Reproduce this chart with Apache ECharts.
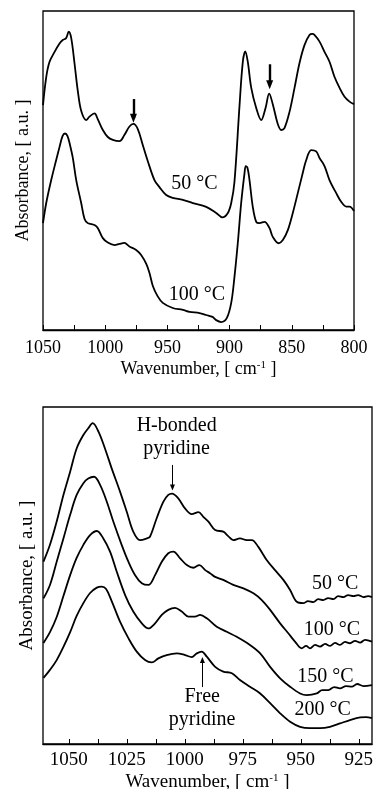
<!DOCTYPE html>
<html>
<head>
<meta charset="utf-8">
<script src="https://cdn.jsdelivr.net/npm/echarts@6/dist/echarts.min.js"></script>
<style>
  html, body { margin: 0; padding: 0; background: #fff; }
  #chart { width: 375px; height: 789px; }
</style>
</head>
<body>
<div id="chart"></div>
<script>
// ---- Upper panel: 1050–800 cm-1 ----
const upperWn50 = [1050.0,1047.4,1044.8,1040.8,1036.7,1034.1,1031.4,1029.3,1027.3,1024.7,1022.0,1019.3,1015.3,1012.6,1008.6,1006.0,1001.9,997.9,993.9,988.5,984.6,980.5,977.3,973.8,969.8,965.8,960.4,956.4,951.0,945.7,937.6,929.6,918.8,910.8,905.9,901.4,898.7,896.1,892.0,889.4,887.4,885.4,882.6,878.6,874.6,871.1,868.2,865.3,861.3,858.5,855.9,851.9,847.8,843.8,839.8,835.8,833.4,831.8,827.7,823.7,819.7,815.7,811.6,807.6,803.6,800.0];
const upperAbs50 = [0.705,0.793,0.840,0.871,0.898,0.909,0.915,0.935,0.915,0.837,0.749,0.687,0.658,0.669,0.679,0.661,0.627,0.605,0.596,0.592,0.611,0.638,0.646,0.630,0.580,0.530,0.470,0.448,0.423,0.414,0.408,0.398,0.386,0.367,0.353,0.367,0.398,0.464,0.705,0.840,0.873,0.841,0.759,0.696,0.658,0.696,0.741,0.708,0.646,0.627,0.633,0.683,0.759,0.837,0.893,0.925,0.928,0.925,0.904,0.872,0.841,0.794,0.759,0.731,0.716,0.708];

const upperWn100 = [1050.0,1047.4,1043.4,1039.4,1036.7,1034.3,1032.3,1030.3,1028.3,1026.0,1023.3,1019.3,1016.6,1014.0,1011.0,1008.6,1006.0,1001.9,997.9,992.5,988.5,984.6,980.5,975.1,971.1,967.0,964.4,961.7,958.0,953.7,945.7,937.6,932.2,924.2,918.8,913.7,910.8,906.8,902.3,898.7,896.1,893.4,890.7,888.0,887.0,885.6,884.0,881.4,878.6,876.0,872.0,868.0,865.3,860.5,857.2,853.2,849.2,845.2,841.2,838.4,834.4,830.4,827.7,823.7,819.7,814.3,810.3,806.3,803.6,800.0];
const upperAbs100 = [0.335,0.398,0.470,0.533,0.574,0.608,0.616,0.608,0.580,0.539,0.470,0.398,0.348,0.335,0.332,0.329,0.320,0.288,0.274,0.266,0.270,0.273,0.262,0.251,0.235,0.207,0.179,0.138,0.107,0.085,0.069,0.063,0.057,0.053,0.047,0.041,0.031,0.025,0.037,0.085,0.166,0.273,0.398,0.492,0.514,0.508,0.470,0.387,0.339,0.335,0.339,0.320,0.292,0.272,0.282,0.313,0.367,0.429,0.492,0.533,0.564,0.560,0.539,0.514,0.470,0.429,0.402,0.387,0.387,0.373];

const upperTemps = ['50 °C', '100 °C'];
const upperTicks = [1050, 1025, 1000, 975, 950, 925, 900, 875, 850, 825, 800];
const upperLabels = [1050, 1000, 950, 900, 850, 800];

// ---- Lower panel: ~1060–920 cm-1 ----
const lowerWn50 = [1060.9,1058.1,1055.2,1052.3,1049.4,1046.6,1043.7,1041.6,1039.7,1037.2,1034.4,1031.5,1027.9,1025.0,1022.2,1019.3,1016.4,1015.0,1012.1,1009.2,1007.1,1005.5,1002.8,999.9,997.0,994.1,992.0,989.8,986.9,983.4,981.3,979.1,976.2,973.3,971.1,968.3,964.7,961.1,957.5,954.6,951.7,948.9,946.9,944.6,942.5,940.3,938.2,935.9,933.9,931.6,929.6,927.3,925.3,923.0,921.0,919.3];
const lowerAbs50 = [0.541,0.591,0.660,0.739,0.808,0.877,0.917,0.937,0.952,0.927,0.877,0.818,0.749,0.689,0.630,0.605,0.610,0.615,0.670,0.719,0.739,0.743,0.729,0.699,0.682,0.688,0.674,0.660,0.635,0.630,0.617,0.605,0.610,0.605,0.605,0.585,0.546,0.516,0.487,0.457,0.422,0.418,0.424,0.421,0.430,0.427,0.433,0.430,0.439,0.436,0.442,0.439,0.442,0.436,0.439,0.436];

const lowerWn100 = [1060.9,1058.1,1055.2,1052.3,1049.4,1046.6,1043.7,1041.6,1039.1,1036.5,1033.6,1030.8,1027.2,1024.3,1021.4,1018.5,1015.7,1012.8,1009.9,1007.1,1004.9,1002.0,999.1,996.3,993.7,991.2,989.1,986.9,983.4,979.1,974.7,970.4,966.8,963.2,958.9,955.3,952.5,949.6,947.7,946.0,943.8,941.7,939.5,937.4,935.2,933.1,930.9,928.8,926.6,924.4,922.3,919.3];
const lowerAbs100 = [0.432,0.472,0.541,0.610,0.680,0.739,0.774,0.788,0.793,0.769,0.719,0.660,0.591,0.541,0.501,0.477,0.472,0.501,0.541,0.566,0.571,0.551,0.531,0.523,0.531,0.516,0.507,0.496,0.487,0.472,0.462,0.447,0.427,0.398,0.358,0.328,0.304,0.284,0.291,0.284,0.294,0.289,0.297,0.291,0.300,0.294,0.303,0.299,0.306,0.301,0.309,0.304];

const lowerWn150 = [1060.9,1058.1,1055.2,1052.3,1049.4,1046.6,1043.7,1040.8,1037.9,1035.1,1032.2,1029.3,1025.7,1022.2,1018.5,1015.7,1012.8,1009.9,1007.1,1004.2,1001.3,998.4,995.6,993.4,990.5,986.2,981.9,977.6,971.9,967.5,963.2,958.9,954.6,950.3,947.4,943.1,940.8,938.1,935.6,933.1,930.5,928.0,925.7,923.0,919.3];
const lowerAbs150 = [0.300,0.332,0.377,0.439,0.501,0.552,0.591,0.620,0.632,0.610,0.571,0.511,0.442,0.393,0.358,0.343,0.358,0.383,0.398,0.404,0.393,0.378,0.378,0.383,0.373,0.348,0.333,0.318,0.294,0.269,0.229,0.195,0.170,0.150,0.145,0.150,0.160,0.160,0.169,0.165,0.172,0.170,0.178,0.172,0.175];

const lowerWn200 = [1060.9,1058.1,1055.2,1052.3,1049.4,1046.6,1043.7,1040.8,1037.9,1035.8,1033.9,1031.5,1027.9,1024.3,1020.7,1017.1,1014.2,1011.4,1007.8,1003.4,999.9,997.0,994.8,992.7,990.5,986.9,983.4,979.7,976.2,971.9,967.5,963.2,958.9,954.6,950.3,946.0,941.7,937.4,933.1,928.8,924.4,921.9,919.3];
const lowerAbs200 = [0.196,0.220,0.249,0.288,0.332,0.380,0.418,0.448,0.464,0.467,0.460,0.424,0.363,0.314,0.274,0.249,0.242,0.254,0.264,0.269,0.264,0.258,0.269,0.274,0.259,0.229,0.215,0.210,0.190,0.170,0.150,0.121,0.091,0.066,0.051,0.047,0.047,0.051,0.061,0.071,0.079,0.080,0.077];

const lowerTemps = ['50 °C', '100 °C', '150 °C', '200 °C'];
const lowerTicks = [1050, 1037.5, 1025, 1012.5, 1000, 987.5, 975, 962.5, 950, 937.5, 925];
const lowerLabels = [1050, 1025, 1000, 975, 950, 925];

// ---- drawing ----
const FONT = 'Liberation Serif';
const INK = '#000';
const pairs = (xs, ys) => xs.map((x, i) => [x, ys[i]]);

function textLabel(size, extra) {
  return Object.assign({ show: true, position: 'inside', color: INK, fontFamily: FONT, fontSize: size }, extra || {});
}

// temperature tag placed in data space
function tag(coord, text, size) {
  return {
    symbol: 'circle', symbolSize: 0, silent: true, animation: false,
    data: [{ coord: coord, value: 0 }],
    label: textLabel(size, { formatter: text })
  };
}

// thin vertical arrow pointing at a band
function arrow(x, from, to, width, size) {
  return {
    silent: true, animation: false,
    symbol: ['none', 'triangle'], symbolSize: size,
    lineStyle: { color: INK, width: width, type: 'solid' },
    label: { show: false },
    emphasis: { disabled: true },
    data: [[{ coord: [x, from] }, { coord: [x, to] }]]
  };
}

function curve(xi, xs, ys, extra) {
  return Object.assign({
    type: 'line', xAxisIndex: xi, yAxisIndex: xi,
    data: pairs(xs, ys), showSymbol: false, smooth: 0.35,
    lineStyle: { color: INK, width: 1.8 }, silent: true, animation: false
  }, extra || {});
}

function xAxisFor(grid, min, max, ticks, labels, fontSize, nameGap, labelMargin) {
  return {
    gridIndex: grid, type: 'value', min: min, max: max, inverse: true,
    axisLine: { show: true, onZero: false, lineStyle: { color: INK, width: 1.3 } },
    axisTick: { show: true, inside: true, length: 5, customValues: ticks, lineStyle: { color: INK, width: 1 } },
    axisLabel: {
      customValues: labels, color: INK, fontFamily: FONT, fontSize: fontSize, margin: labelMargin,
      formatter: v => String(v)
    },
    splitLine: { show: false },
    name: 'Wavenumber, [ cm{sup|-1} ]',
    nameLocation: 'middle', nameGap: nameGap,
    nameTextStyle: {
      color: INK, fontFamily: FONT, fontSize: fontSize,
      rich: { sup: { fontFamily: FONT, fontSize: Math.round(fontSize * 0.6), color: INK, verticalAlign: 'top' } }
    }
  };
}

function yAxisFor(grid, nameGap, fontSize) {
  return {
    gridIndex: grid, type: 'value', min: 0, max: 1,
    axisLine: { show: false }, axisTick: { show: false },
    axisLabel: { show: false }, splitLine: { show: false },
    name: 'Absorbance, [ a.u. ]', nameLocation: 'middle', nameRotate: 90, nameGap: nameGap,
    nameTextStyle: { color: INK, fontFamily: FONT, fontSize: fontSize }
  };
}

const chart = echarts.init(document.getElementById('chart'), null, { renderer: 'canvas' });

const frame = { show: true, borderColor: INK, borderWidth: 1.3, backgroundColor: 'transparent', containLabel: false, outerBoundsMode: 'none' };

chart.setOption({
  backgroundColor: '#fff',
  animation: false,
  grid: [
    Object.assign({ left: 43, top: 11, width: 311, height: 319 }, frame),
    Object.assign({ left: 43, top: 407, width: 329, height: 337 }, frame)
  ],
  xAxis: [
    xAxisFor(0, 800, 1050, upperTicks, upperLabels, 18, 30, 9),
    xAxisFor(1, 919.3, 1061.1, lowerTicks, lowerLabels, 19, 29, 7)
  ],
  yAxis: [yAxisFor(0, 11, 18), yAxisFor(1, 6, 19)],
  series: [
    curve(0, upperWn50, upperAbs50, {
      markPoint: tag([928.2, 0.460], upperTemps[0], 20),
      markLine: {
        silent: true, animation: false, symbol: ['none', 'triangle'], symbolSize: [7, 9],
        lineStyle: { color: INK, width: 2.4, type: 'solid' }, label: { show: false }, emphasis: { disabled: true },
        data: [
          [{ coord: [977.3, 0.724] }, { coord: [977.3, 0.664] }],
          [{ coord: [867.8, 0.833] }, { coord: [867.8, 0.769] }]
        ]
      }
    }),
    curve(0, upperWn100, upperAbs100, { markPoint: tag([926.2, 0.110], upperTemps[1], 20) }),

    curve(1, lowerWn50, lowerAbs50, {
      markPoint: {
        symbol: 'circle', symbolSize: 0, silent: true, animation: false,
        data: [
          { coord: [935.2, 0.477], value: 0, label: textLabel(20, { formatter: lowerTemps[0] }) },
          { coord: [1003.5, 0.909], value: 0, label: textLabel(20, { formatter: 'H-bonded\npyridine', lineHeight: 23 }) }
        ]
      },
      markLine: arrow(1005.3, 0.828, 0.761, 1, [5, 6])
    }),
    curve(1, lowerWn100, lowerAbs100, { markPoint: tag([936.6, 0.338], lowerTemps[1], 20) }),
    curve(1, lowerWn150, lowerAbs150, { markPoint: tag([939.4, 0.200], lowerTemps[2], 20) }),
    curve(1, lowerWn200, lowerAbs200, {
      markPoint: {
        symbol: 'circle', symbolSize: 0, silent: true, animation: false,
        data: [
          { coord: [940.6, 0.101], value: 0, label: textLabel(20, { formatter: lowerTemps[3] }) },
          { coord: [992.5, 0.107], value: 0, label: textLabel(20, { formatter: 'Free\npyridine', lineHeight: 23 }) }
        ]
      },
      markLine: arrow(992.4, 0.169, 0.249, 1, [5, 6])
    })
  ]
});
</script>
</body>
</html>
